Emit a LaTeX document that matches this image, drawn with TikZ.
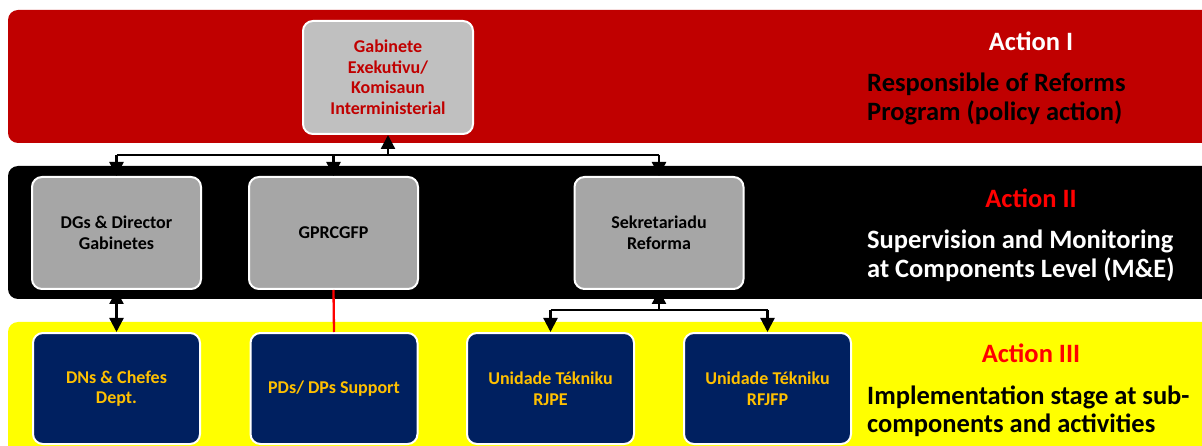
\documentclass[tikz,border=0pt]{standalone}
\usepackage{fontspec}
\setmainfont{Carlito}
\usetikzlibrary{arrows.meta}
\definecolor{bandred}{HTML}{C00000}
\definecolor{bandyellow}{HTML}{FFFF00}
\definecolor{graylight}{HTML}{C0C0C0}
\definecolor{graymid}{HTML}{A6A6A6}
\definecolor{navy}{HTML}{002060}
\definecolor{gold}{HTML}{FFC000}
\definecolor{brightred}{HTML}{FF0000}
\tikzset{
  band/.style={rounded corners=10pt},
  box/.style={draw=white, line width=2pt, rounded corners=10pt, align=center,
    font=\bfseries\fontsize{18}{20.5}\selectfont, inner sep=2pt},
  topbox/.style={box, fill=graylight, text=bandred, minimum width=170pt, minimum height=113pt},
  midbox/.style={box, fill=graymid, text=black, minimum width=169pt, minimum height=112pt},
  lowbox/.style={box, fill=navy, text=gold, minimum width=167pt, minimum height=111pt},
  conn/.style={line width=2.3pt, black},
  arr/.style={conn, -{Triangle[width=14pt,length=14pt]}},
  darr/.style={conn, {Triangle[width=14pt,length=14pt]}-{Triangle[width=14pt,length=14pt]}},
  title/.style={font=\bfseries\fontsize{26.5}{28}\selectfont},
  body/.style={font=\bfseries\fontsize{26.5}{28.5}\selectfont, align=left, anchor=west, inner sep=0pt},
}
\begin{document}
\begin{tikzpicture}[x=1pt,y=-1pt]
\useasboundingbox (0,0) rectangle (1202,446);
\fill[white] (0,0) rectangle (1202,446);
% bands
\fill[bandred, band] (8,10) rectangle (1215,143);
\fill[black, band] (8,166) rectangle (1215,299);
\fill[bandyellow, band] (8,322) rectangle (1215,470);
% boxes
\node[topbox] (top) at (388,77.5) {Gabinete\\Exekutivu/\\Komisaun\\Interministerial};
\node[midbox] (dgs) at (116.5,233) {DGs \& Director\\Gabinetes};
\node[midbox] (gpr) at (333.5,233) {GPRCGFP};
\node[midbox] (sek) at (659,233) {Sekretariadu\\Reforma};
\node[lowbox] (dns) at (116.5,388.5) {DNs \& Chefes\\Dept.};
\node[lowbox] (pds) at (334,388.5) {PDs/ DPs Support};
\node[lowbox] (rjpe) at (550.5,388.5) {Unidade Tékniku\\RJPE};
\node[lowbox] (rfjfp) at (767.5,388.5) {Unidade Tékniku\\RFJFP};
% connectors top
\coordinate (hb) at (388,155);
\draw[arr] (hb) -- (top.south);
\draw[conn] (dgs.north |- hb) -- (sek.north |- hb);
\draw[arr] (dgs.north |- hb) -- (dgs.north);
\draw[arr] (gpr.north |- hb) -- (gpr.north);
\draw[arr] (sek.north |- hb) -- (sek.north);
% connectors bottom
\draw[darr] (dgs.south) -- (dns.north);
\draw[line width=2.3pt, brightred] (gpr.south) -- (pds.north);
\coordinate (sb) at (659,310);
\draw[arr] (sb) -- (sek.south);
\draw[conn] (rjpe.north |- sb) -- (rfjfp.north |- sb);
\draw[arr] (rjpe.north |- sb) -- (rjpe.north);
\draw[arr] (rfjfp.north |- sb) -- (rfjfp.north);
% right texts
\node[title, text=white] (t1) at (1031,41.5) {Action I};
\node[body, text=black] (b1) at (867,99) {Responsible of Reforms\\Program (policy action)};
\node[title, text=brightred] (t2) at (1031,198) {Action II};
\node[body, text=white] (b2) at (867,256) {Supervision and Monitoring\\at Components Level (M\&E)};
\node[title, text=brightred] (t3) at (1031,353) {Action III};
\node[body, text=black] (b3) at (867,411.5) {Implementation stage at sub-\\components and activities};
\end{tikzpicture}
\end{document}
